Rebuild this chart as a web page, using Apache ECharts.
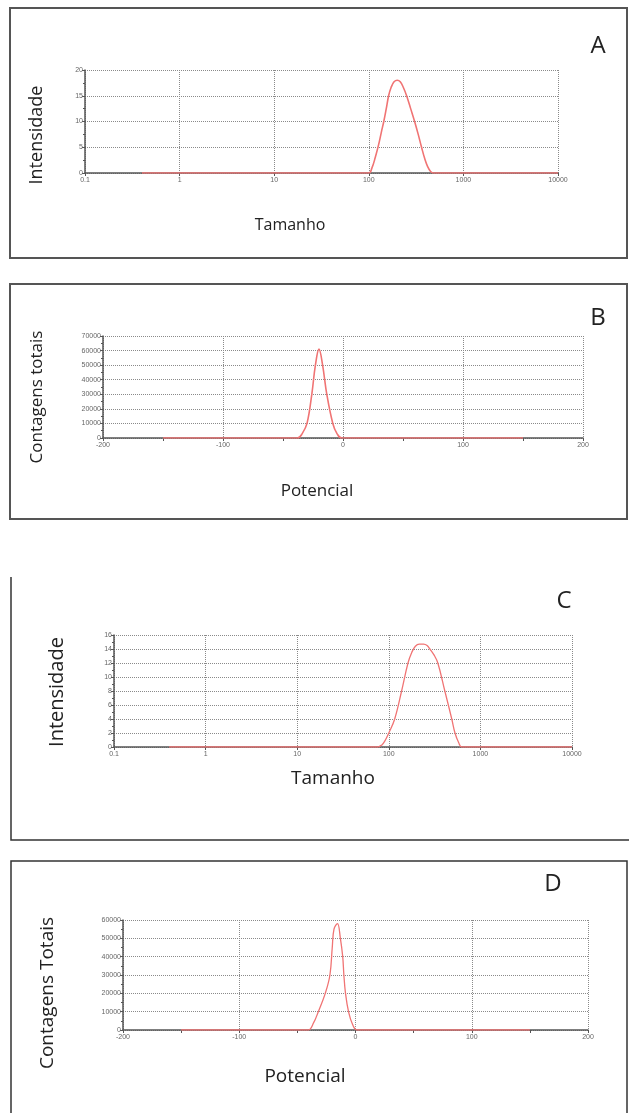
<!DOCTYPE html>
<html>
<head>
<meta charset="utf-8">
<script src="https://cdn.jsdelivr.net/npm/echarts@6/dist/echarts.min.js"></script>
<style>
  html, body { margin: 0; padding: 0; background: #fff; }
  #main { width: 629px; height: 1113px; }
</style>
</head>
<body>
<div id="main"></div>
<script>
// painel A - tamanho x intensidade
var sizeA = [0.4, 100, 108, 117, 127, 136, 144, 153, 162, 172, 185, 200, 215, 232, 251, 277, 305, 333, 361, 390, 420, 450, 483, 10000]
var intensityA = [0, 0, 1, 3, 5.5, 8, 10, 12.5, 15, 16.6, 17.7, 18, 17.7, 16.6, 15, 12.5, 10, 7.5, 5, 2.8, 1.2, 0.3, 0, 0]
// painel B - potencial x contagens
var potB = [-150, -38, -34, -30, -26, -23, -20, -17, -13.5, -8.5, -5, -1, 150]
var countB = [0, 0, 3000, 10000, 30000, 50000, 61000, 50000, 30000, 10000, 3000, 0, 0]
// painel C
var sizeC = [0.4, 76, 84, 90, 100, 116, 138, 162, 178, 195, 215, 240, 262, 281, 310, 343, 409, 487, 528, 580, 626, 10000]
var intensityC = [0, 0, 0.3, 0.8, 2, 4, 8, 12, 13.5, 14.4, 14.7, 14.7, 14.5, 14.0, 13.2, 12, 8, 4, 2, 0.6, 0, 0]
// painel D
var potD = [-150, -41, -36, -32, -26, -22, -20, -18.5, -15.5, -13, -11, -10, -8.6, -6, -2.5, 1.5, 150]
var countD = [0, 0, 4000, 10000, 20000, 30000, 45000, 55000, 58000, 50000, 40000, 30000, 20000, 10000, 3000, 0, 0]

function pairs (xs, ys) {
  var out = []
  for (var i = 0; i < xs.length; i++) out.push([xs[i], ys[i]])
  return out
}

var tickFont = { fontSize: 7, color: '#666', fontFamily: 'Liberation Sans', formatter: function (v) { return String(v) } }
var gridDots = { show: true, lineStyle: { type: 'dotted', color: '#8a8a8a', width: 1 } }
var axisDark = { show: true, onZero: false, lineStyle: { color: '#555', width: 1.5 } }

function logX (idx) {
  return {
    type: 'log', gridIndex: idx, min: 0.1, max: 10000, logBase: 10,
    axisLine: axisDark,
    axisTick: { show: true, length: 3, lineStyle: { color: '#555' } },
    axisLabel: Object.assign({ margin: 4 }, tickFont),
    splitLine: gridDots
  }
}
function potX (idx) {
  return {
    type: 'value', gridIndex: idx, min: -200, max: 200, interval: 100,
    axisLine: axisDark,
    axisTick: { show: true, length: 3, lineStyle: { color: '#555' } },
    minorTick: { show: true, splitNumber: 2, length: 3, lineStyle: { color: '#555' } },
    axisLabel: Object.assign({ margin: 4 }, tickFont),
    splitLine: gridDots
  }
}
function valY (idx, max, interval, minor) {
  return {
    type: 'value', gridIndex: idx, min: 0, max: max, interval: interval,
    axisLine: axisDark,
    axisTick: { show: true, length: 3, lineStyle: { color: '#555' } },
    minorTick: { show: true, splitNumber: minor, length: 2, lineStyle: { color: '#555' } },
    axisLabel: Object.assign({ margin: 2 }, tickFont),
    splitLine: gridDots
  }
}
function curve (idx, data, width) {
  return {
    type: 'line', xAxisIndex: idx, yAxisIndex: idx, data: data,
    smooth: 0.4, symbol: 'none',
    lineStyle: { color: '#f07474', width: width }
  }
}

function txt (x, y, s, size, rot) {
  return {
    type: 'text', x: x, y: y, rotation: rot ? Math.PI / 2 : 0,
    style: { text: s, fontSize: size, fontFamily: 'Open Sans', fill: '#222', textAlign: 'center', textVerticalAlign: 'middle' }
  }
}
var boxLine = { stroke: '#555', lineWidth: 2, fill: 'none' }

var option = {
  animation: false,
  grid: [
    { left: 85, top: 70, width: 473, height: 103 },
    { left: 103, top: 336, width: 480, height: 102 },
    { left: 114, top: 635, width: 458, height: 112 },
    { left: 123, top: 920, width: 465, height: 110 }
  ],
  xAxis: [logX(0), potX(1), logX(2), potX(3)],
  yAxis: [valY(0, 20, 5, 2), valY(1, 70000, 10000, 2), valY(2, 16, 2, 2), valY(3, 60000, 10000, 2)],
  series: [
    curve(0, pairs(sizeA, intensityA), 1.6),
    curve(1, pairs(potB, countB), 1.6),
    curve(2, pairs(sizeC, intensityC), 1.3),
    curve(3, pairs(potD, countD), 1.3)
  ],
  graphic: [
    { type: 'rect', shape: { x: 10, y: 8, width: 617, height: 250 }, style: boxLine },
    { type: 'rect', shape: { x: 10, y: 284, width: 617, height: 235 }, style: boxLine },
    { type: 'polyline', shape: { points: [[11, 577], [11, 840], [629, 840]] }, style: { stroke: '#333', lineWidth: 1.5, fill: 'none' } },
    { type: 'rect', shape: { x: 11, y: 861, width: 616, height: 270 }, style: { stroke: '#333', lineWidth: 1.5, fill: 'none' } },
    txt(598, 46, 'A', 24),
    txt(598, 318, 'B', 24),
    txt(564, 601, 'C', 24),
    txt(553, 884, 'D', 24),
    txt(37, 135, 'Intensidade', 18, true),
    txt(290, 225, 'Tamanho', 16),
    txt(37, 397, 'Contagens totais', 17, true),
    txt(317, 491, 'Potencial', 17),
    txt(57, 692, 'Intensidade', 20, true),
    txt(333, 779, 'Tamanho', 19),
    txt(48, 993, 'Contagens Totais', 19, true),
    txt(305, 1077, 'Potencial', 19)
  ]
}

var chart = echarts.init(document.getElementById('main'))
chart.setOption(option)
</script>
</body>
</html>
